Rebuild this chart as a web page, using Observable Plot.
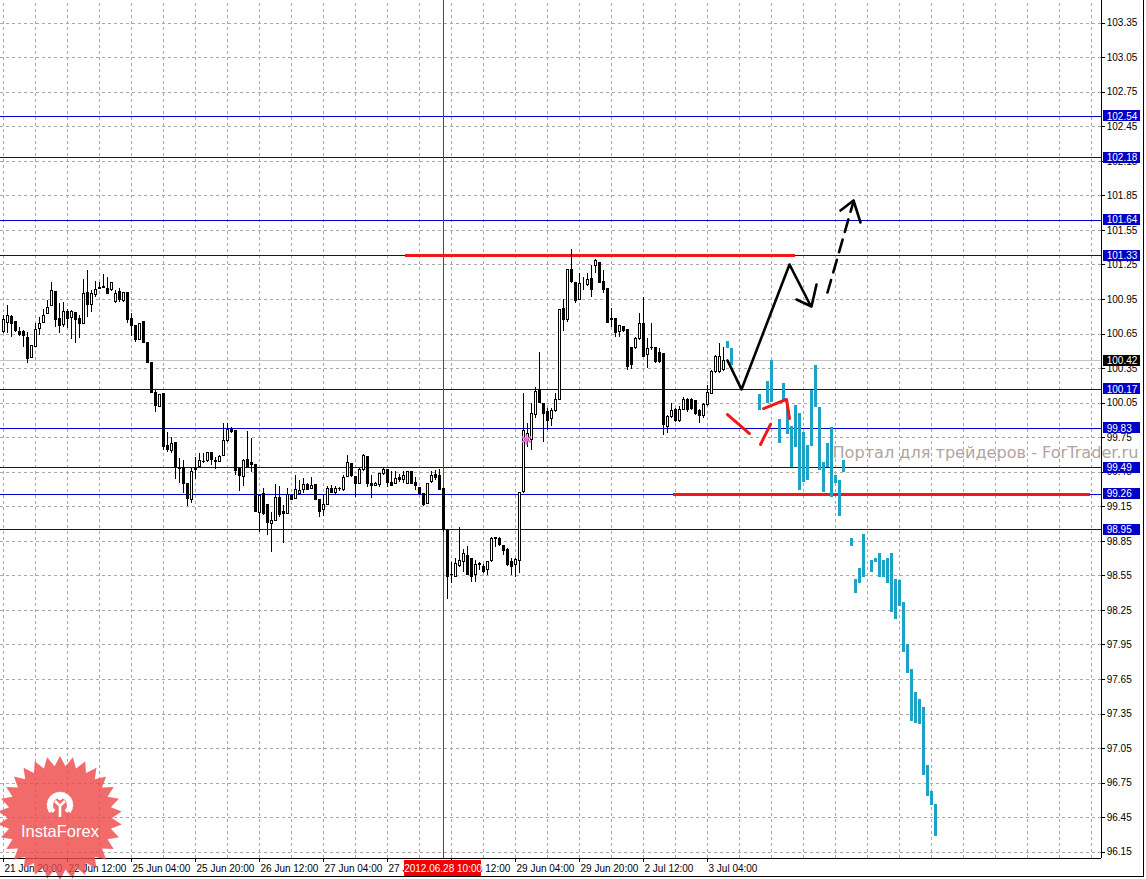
<!DOCTYPE html>
<html><head><meta charset="utf-8">
<script src="https://cdn.jsdelivr.net/npm/d3@7"></script>
<script src="https://cdn.jsdelivr.net/npm/@observablehq/plot@0.6"></script>
<style>
html,body{margin:0;padding:0;background:#fff;}
#wrap{position:relative;width:1146px;height:879px;overflow:hidden;background:#fff;}
#wrap svg{display:block;}
#logo{position:absolute;left:0;top:0;pointer-events:none;}
#border{position:absolute;left:0;top:0;width:1143px;height:876px;border-right:1px solid #000;border-bottom:1px solid #000;pointer-events:none;}
</style></head><body>
<div id="wrap"><div id="chart"></div><svg id="logo" width="1146" height="879"></svg><div id="border"></div></div>
<script>
// ---- Candles (H1), index 0 = 21 Jun 20:00 ----
const opens = [100.667,100.745,100.797,100.754,100.672,100.667,100.618,100.444,100.536,100.693,100.745,100.826,100.893,101.011,100.785,100.728,100.838,100.791,100.832,100.785,
100.739,101.008,100.898,100.988,101.040,101.052,101.043,101.029,100.927,101.011,100.936,101.005,100.783,100.716,100.600,100.754,100.568,100.398,100.137,100.015,
100.131,99.682,99.630,99.703,99.483,99.489,99.344,99.211,99.465,99.494,99.538,99.546,99.616,99.546,99.541,99.590,99.717,99.813,99.804,99.474,
99.407,99.552,99.529,99.515,99.098,99.263,99.161,99.002,99.025,99.222,99.101,99.089,99.240,99.219,99.263,99.292,99.341,99.306,99.335,99.205,
99.124,99.167,99.306,99.269,99.300,99.292,99.407,99.523,99.410,99.350,99.465,99.584,99.344,99.326,99.335,99.436,99.471,99.353,99.344,99.399,
99.379,99.350,99.454,99.353,99.309,99.257,99.170,99.361,99.428,99.416,99.306,98.938,98.560,98.544,98.634,98.669,98.718,98.692,98.553,98.645,
98.631,98.597,98.677,98.872,98.872,98.805,98.776,98.669,98.640,98.683,99.277,99.726,99.726,99.951,100.160,100.044,99.971,99.914,99.980,100.079,
100.869,100.768,101.208,101.092,100.947,101.072,101.078,101.130,101.245,101.265,101.100,101.043,100.779,100.783,100.666,100.710,100.681,100.527,100.531,100.609,
100.733,100.470,100.530,100.531,100.484,100.479,99.841,99.928,99.993,99.899,99.993,100.073,100.073,100.067,99.980,99.934,100.030,100.131,100.319,100.319,100.334];
const highs = [100.811,100.898,100.811,100.754,100.710,100.681,100.667,100.551,100.739,100.797,100.861,100.942,101.095,101.011,100.913,100.927,100.866,100.855,100.840,100.811,
101.121,101.202,101.029,101.110,101.101,101.165,101.144,101.101,101.029,101.043,101.008,101.005,100.826,100.725,100.739,100.754,100.568,100.398,100.160,100.120,
100.131,99.798,99.755,99.703,99.567,99.552,99.344,99.480,99.581,99.610,99.610,99.624,99.624,99.581,99.596,99.871,99.871,99.842,99.804,99.480,
99.558,99.804,99.740,99.515,99.248,99.306,99.161,99.104,99.341,99.326,99.161,99.306,99.254,99.422,99.379,99.393,99.350,99.402,99.335,99.205,
99.248,99.326,99.332,99.326,99.321,99.422,99.596,99.523,99.410,99.480,99.604,99.584,99.422,99.364,99.431,99.494,99.471,99.460,99.460,99.428,
99.460,99.454,99.454,99.407,99.309,99.263,99.355,99.460,99.465,99.471,99.306,98.950,98.666,98.701,98.973,98.779,98.805,98.701,98.683,98.669,
98.649,98.677,98.886,98.886,98.886,98.814,98.785,98.701,98.701,99.277,100.136,99.871,100.044,100.189,100.492,100.050,100.001,100.001,100.131,100.863,
100.948,101.202,101.382,101.092,101.173,101.144,101.173,101.246,101.295,101.270,101.202,101.043,100.869,100.783,100.724,100.719,100.681,100.536,100.618,100.826,
100.965,100.609,100.744,100.536,100.522,100.479,99.943,100.044,100.001,100.021,100.099,100.090,100.090,100.077,99.993,100.043,100.203,100.334,100.464,100.571,100.536];
const lows = [100.652,100.652,100.618,100.667,100.629,100.536,100.392,100.444,100.536,100.638,100.739,100.826,100.893,100.710,100.658,100.710,100.701,100.600,100.571,100.609,
100.739,100.797,100.840,100.971,101.034,101.043,100.991,101.023,100.913,100.927,100.927,100.745,100.629,100.577,100.594,100.571,100.398,100.131,99.972,100.010,
99.639,99.624,99.610,99.384,99.350,99.263,99.153,99.176,99.384,99.489,99.523,99.538,99.509,99.471,99.535,99.590,99.711,99.784,99.422,99.286,
99.326,99.480,99.451,99.104,98.930,99.075,98.901,98.756,99.025,99.060,98.828,99.083,99.205,99.211,99.248,99.263,99.292,99.297,99.205,99.060,
99.066,99.161,99.263,99.248,99.286,99.286,99.407,99.407,99.228,99.344,99.457,99.321,99.219,99.326,99.315,99.422,99.321,99.326,99.344,99.364,
99.350,99.344,99.341,99.292,99.254,99.153,99.167,99.350,99.379,99.292,98.930,98.345,98.484,98.536,98.625,98.582,98.553,98.495,98.495,98.597,
98.570,98.553,98.669,98.799,98.805,98.727,98.631,98.553,98.538,98.568,99.263,99.667,99.639,99.914,100.044,99.711,99.812,99.847,99.971,100.073,
100.675,100.750,101.092,100.913,100.941,101.028,101.063,100.965,101.173,101.092,101.005,100.742,100.705,100.618,100.618,100.666,100.334,100.340,100.516,100.594,
100.449,100.348,100.507,100.397,100.397,99.769,99.784,99.914,99.885,99.885,99.987,99.969,99.987,99.943,99.876,99.917,100.024,100.125,100.308,100.310,100.328];
const closes = [100.768,100.803,100.739,100.675,100.644,100.635,100.435,100.545,100.681,100.739,100.809,100.878,101.026,100.771,100.722,100.843,100.780,100.838,100.774,100.733,
101.000,100.898,101.000,101.034,101.052,101.060,101.000,101.095,101.000,100.948,101.008,100.768,100.716,100.600,100.739,100.571,100.398,100.137,100.024,100.120,
99.668,99.645,99.691,99.489,99.477,99.350,99.219,99.454,99.480,99.549,99.543,99.619,99.552,99.538,99.581,99.717,99.813,99.798,99.460,99.413,
99.546,99.489,99.517,99.104,99.242,99.089,99.008,99.022,99.225,99.075,99.089,99.254,99.211,99.292,99.283,99.335,99.297,99.326,99.211,99.104,
99.161,99.300,99.269,99.306,99.303,99.402,99.532,99.413,99.344,99.471,99.590,99.350,99.326,99.350,99.431,99.471,99.358,99.332,99.393,99.379,
99.413,99.454,99.347,99.326,99.257,99.161,99.350,99.416,99.399,99.297,98.944,98.538,98.553,98.649,98.677,98.736,98.553,98.538,98.640,98.649,
98.582,98.669,98.872,98.876,98.814,98.770,98.640,98.631,98.689,99.268,99.812,99.784,99.957,100.151,100.050,99.957,99.893,99.980,100.079,100.863,
100.774,101.202,101.100,100.933,101.087,101.072,101.121,101.035,101.283,101.092,101.034,100.744,100.774,100.658,100.716,100.675,100.368,100.377,100.609,100.739,
100.455,100.522,100.531,100.406,100.406,99.856,99.928,99.980,99.899,99.993,100.079,99.987,100.001,99.957,99.934,100.030,100.136,100.319,100.449,100.455,100.420];

// ---- Projected (cyan) bars ----
const forecastIdx  = [181,182,189,191,192,194,195,196,197,198,199,200,201,202,203,204,205,206,207,208,209,210,212,213,214,215,217,218,219,220,221,222,223,224,225,226,227,228,229,230,231,232,233];
const forecastHigh = [100.585,100.522,100.125,100.241,100.420,99.905,100.218,100.030,99.847,100.030,99.963,99.798,99.682,100.160,100.377,100.015,99.537,99.702,99.841,99.422,99.378,99.552,98.872,98.516,98.611,98.909,98.683,98.698,98.742,98.683,98.698,98.742,98.516,98.510,98.321,97.954,97.734,97.540,97.473,97.409,96.903,96.680,96.564];
const forecastLow  = [100.527,100.377,99.986,100.050,100.058,99.702,100.067,99.778,99.489,99.662,99.291,99.363,99.378,99.674,100.015,99.465,99.277,99.489,99.233,99.349,99.066,99.450,98.807,98.394,98.481,98.538,98.582,98.669,98.538,98.533,98.481,98.235,98.168,98.284,97.887,97.699,97.288,97.265,97.259,96.816,96.634,96.556,96.286];

// ---- Levels & annotations ----
const levelLines = [102.54, 102.18, 101.64, 101.33, 100.17, 99.83, 99.49, 99.26, 98.95];
const bidPrice = 100.42;
const redLevelPrice = [101.33, 99.26];
const redLevelFrom  = [100.5, 167.5];
const redLevelTo    = [198, 271.75];
const markerBarIdx = 110;       // vertical line: 2012.06.28 10:00
const markerBarLabel = "2012.06.28 10:00";
const solidArrowIdx   = [181, 184.5, 196.5, 201.75];
const solidArrowPrice = [100.42, 100.169, 101.254, 100.898];
const solidHeadIdx    = [198.25, 202, 203.25];
const solidHeadPrice  = [100.95, 100.889, 101.08];
const dashArrowIdx    = [206, 212.5];
const dashArrowPrice  = [101.011, 101.801];
const dashHeadIdx     = [209.25, 212.5, 214.25];
const dashHeadPrice   = [101.723, 101.81, 101.619];
const redStroke1Idx = [181, 186.5],   redStroke1Price = [99.951, 99.786];
const redStroke2Idx = [189.25, 191.75], redStroke2Price = [99.691, 99.865];
const redStroke3Idx = [190, 195.75, 196.5], redStroke3Price = [100.003, 100.082, 99.917];
const starIdx = 130.75, starPrice = 99.734;

// ---- Axis tick labels ----
const priceTicks = [96.15,96.45,96.75,97.05,97.35,97.65,97.95,98.25,98.55,98.85,99.15,99.45,99.75,100.05,100.35,100.65,100.95,101.25,101.55,101.85,102.15,102.45,102.75,103.05,103.35];
const timeTickIdx = [0,16,32,48,64,80,96,112,128,144,160,176];
const timeTickLabels = ["21 Jun 20:00","22 Jun 12:00","25 Jun 04:00","25 Jun 20:00","26 Jun 12:00","27 Jun 04:00","27 Jun 20:00","28 Jun 12:00","29 Jun 04:00","29 Jun 20:00","2 Jul 12:00","3 Jul 04:00"];
const watermark = "Портал для трейдеров - ForTrader.ru";

// ---- Build tables ----
const candles = opens.map((o, i) => ({i, o, h: highs[i], l: lows[i], c: closes[i], up: closes[i] >= o}));
const forecast = forecastIdx.map((i, j) => ({i, h: forecastHigh[j], l: forecastLow[j]}));
const pts = (xs, ys, g) => xs.map((x, j) => ({i: x, p: ys[j], g}));
const solidLines = [...pts(solidArrowIdx, solidArrowPrice, "a"), ...pts(solidHeadIdx, solidHeadPrice, "b")];
const dashLines = [...pts(dashArrowIdx, dashArrowPrice, "a")];
const dashHead = pts(dashHeadIdx, dashHeadPrice, "b");
const redStrokes = [...pts(redStroke1Idx, redStroke1Price, "1"), ...pts(redStroke2Idx, redStroke2Price, "2"), ...pts(redStroke3Idx, redStroke3Price, "3")];
const redLevels = redLevelPrice.map((p, j) => ({p, a: redLevelFrom[j], b: redLevelTo[j]}));

const xMin = -0.75, xMax = 274.5;      // bar index domain across the plotting area
const yMin = 96.095, yMax = 103.547;   // price domain across the plotting area
const pxPerPrice = 858 / (yMax - yMin);
const gridIdx = d3.range(0, 273, 8);
const font = "'Liberation Sans', Arial, sans-serif";
const boxH = 5.5 / pxPerPrice;
const crisp = "crispEdges";

const chart = Plot.plot({
  width: 1146, height: 879,
  marginLeft: 0, marginRight: 45, marginTop: 0, marginBottom: 21,
  x: {domain: [xMin, xMax], axis: null},
  y: {domain: [yMin, yMax], axis: null},
  style: {background: "transparent", fontFamily: font, overflow: "visible"},
  marks: [
    Plot.ruleY(priceTicks, {x1: xMin, x2: xMax, stroke: "#a8a8a8", strokeDasharray: "3,3", shapeRendering: crisp}),
    Plot.ruleX(gridIdx, {y1: yMin, y2: yMax, stroke: "#a8a8a8", strokeDasharray: "3,3", shapeRendering: crisp}),
    Plot.text([watermark], {x: 207.25, y: 99.62, text: d => d, textAnchor: "start", fill: "#b0a4a4", fontSize: 16.1, fontFamily: "'DejaVu Sans', sans-serif"}),
    Plot.ruleY([bidPrice], {x1: xMin, x2: xMax, stroke: "#c4c4c4", shapeRendering: crisp}),
    Plot.ruleY(levelLines, {x1: xMin, x2: xMax, stroke: "#0000c8", shapeRendering: crisp}),
    Plot.ruleX([markerBarIdx], {y1: yMin, y2: yMax, stroke: "#ff0000", shapeRendering: crisp}),
    Plot.ruleY(redLevels, {y: "p", x1: "a", x2: "b", stroke: "#f01818", strokeWidth: 3, shapeRendering: crisp}),
    Plot.ruleX(candles, {x: "i", y1: "l", y2: "h", stroke: "#000", shapeRendering: crisp}),
    Plot.rect(candles, {x1: d => d.i - 0.25, x2: d => d.i + 0.25, y1: "o", y2: "c", fill: d => d.up ? "#fff" : "#000", stroke: "#000", strokeWidth: 1, shapeRendering: crisp}),
    Plot.rect(forecast, {x1: d => d.i - 0.375, x2: d => d.i + 0.375, y1: "l", y2: "h", fill: "#1ea2c8", shapeRendering: crisp}),
    Plot.line(solidLines, {x: "i", y: "p", z: "g", stroke: "#000", strokeWidth: 2.6}),
    Plot.line(dashLines, {x: "i", y: "p", z: "g", stroke: "#000", strokeWidth: 2.6, strokeDasharray: "13,8"}),
    Plot.line(dashHead, {x: "i", y: "p", z: "g", stroke: "#000", strokeWidth: 2.6}),
    Plot.line(redStrokes, {x: "i", y: "p", z: "g", stroke: "#f01818", strokeWidth: 3}),
    Plot.dot([0], {x: starIdx, y: starPrice, symbol: "asterisk", r: 5, stroke: "#e070d0", strokeWidth: 2}),
    // frame
    Plot.ruleX([xMax], {y1: yMin, y2: yMax, stroke: "#000", shapeRendering: crisp}),
    Plot.ruleY([yMin], {x1: xMin, x2: xMax, stroke: "#000", shapeRendering: crisp}),
    // price axis
    Plot.ruleY(priceTicks, {x1: xMax, x2: xMax + 1, stroke: "#000", shapeRendering: crisp}),
    Plot.text(priceTicks, {x: xMax + 1.3, y: d => d, text: d => d.toFixed(2), textAnchor: "start", fontSize: 10, fill: "#000"}),
    Plot.rect(levelLines, {x1: xMax + 0.6, x2: xMax + 9.8, y1: d => d - boxH, y2: d => d + boxH, fill: "#0000c8", shapeRendering: crisp}),
    Plot.text(levelLines, {x: xMax + 1.3, y: d => d, text: d => d.toFixed(2), textAnchor: "start", fontSize: 10, fill: "#fff"}),
    Plot.rect([bidPrice], {x1: xMax + 0.6, x2: xMax + 9.8, y1: d => d - boxH, y2: d => d + boxH, fill: "#000", shapeRendering: crisp}),
    Plot.text([bidPrice], {x: xMax + 1.3, y: d => d, text: d => d.toFixed(2), textAnchor: "start", fontSize: 10, fill: "#fff"}),
    // time axis
    Plot.ruleX(timeTickIdx, {y1: yMin, y2: yMin - 4 / pxPerPrice, stroke: "#000", shapeRendering: crisp}),
    Plot.text(timeTickIdx, {x: d => d, y: yMin - 10 / pxPerPrice, text: (d, j) => timeTickLabels[j], textAnchor: "start", dx: 1, fontSize: 10, fill: "#000"}),
    Plot.rect([markerBarIdx], {x1: d => d - 9.75, x2: d => d + 9.5, y1: yMin - 2 / pxPerPrice, y2: yMin - 18 / pxPerPrice, fill: "#f00000", shapeRendering: crisp}),
    Plot.text([markerBarLabel], {x: markerBarIdx - 0.1, y: yMin - 10 / pxPerPrice, text: d => d, textAnchor: "middle", fontSize: 10, fill: "#fff"})
  ]
});
document.getElementById("chart").appendChild(chart);

// ---- InstaForex badge (decorative) ----
const logo = d3.select("#logo");
const cx = 60, cy = 818, R = 62, r = 52, n = 30;
const star = d3.range(2 * n).map(j => {
  const a = Math.PI * j / n - Math.PI / 2;
  const rad = j % 2 ? r : R;
  return [cx + rad * Math.cos(a), cy + rad * Math.sin(a)];
});
logo.append("path").attr("d", "M" + star.join("L") + "Z").attr("fill", "#ee4a4a").attr("opacity", 0.82);
const g = logo.append("g").attr("fill", "none").attr("stroke", "#fff");
g.append("path").attr("d", d3.arc()({innerRadius: 7, outerRadius: 11, startAngle: -2.4, endAngle: 2.4})).attr("transform", `translate(${cx},805)`).attr("fill", "#fff").attr("stroke", "none");
g.append("path").attr("d", d3.arc()({innerRadius: 10, outerRadius: 13, startAngle: -2.2, endAngle: 2.2, padAngle: 0})).attr("transform", `translate(${cx},805)`).attr("fill", "#fff").attr("stroke", "#fff").attr("stroke-dasharray", "2,2").attr("stroke-width", 0.5);
g.append("circle").attr("cx", cx).attr("cy", 798).attr("r", 2.3).attr("fill", "#fff").attr("stroke", "none");
g.append("path").attr("d", `M${cx-5},801 L${cx},806 L${cx+5},801 M${cx},806 L${cx},817`).attr("stroke-width", 2.6);
logo.append("text").attr("x", cx).attr("y", 837).attr("text-anchor", "middle").attr("fill", "#fff")
  .attr("font-family", "'Liberation Sans', Arial, sans-serif").attr("font-size", 16.5).text("InstaForex");
</script>
</body></html>
